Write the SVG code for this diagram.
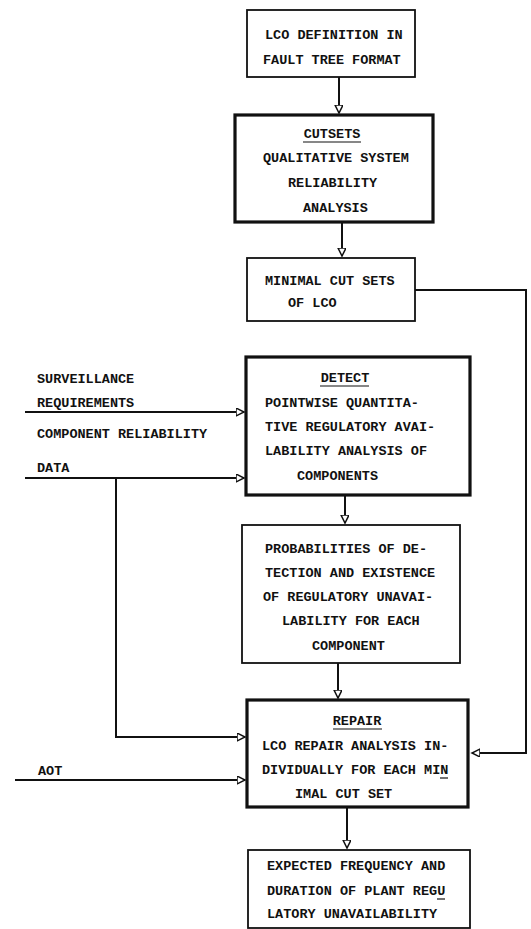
<svg xmlns="http://www.w3.org/2000/svg" width="531" height="929" viewBox="0 0 531 929">
<defs>
<marker id="ah" markerWidth="10" markerHeight="10" refX="8" refY="4" orient="auto" markerUnits="userSpaceOnUse">
<path d="M0,0 L8,4 L0,8 Z" fill="#fff" stroke="#111" stroke-width="1.5"/>
</marker>
</defs>
<style>
.box{fill:#fff;stroke:#111;stroke-width:1.8}
.thick{fill:#fff;stroke:#111;stroke-width:3.2}
.t{font-family:"Liberation Mono","Courier New",monospace;font-size:13.5px;font-weight:bold;fill:#111}
.c{text-anchor:middle}
.ln{fill:none;stroke:#111;stroke-width:2}
.ul{stroke:#111;stroke-width:1.2}
</style>
<rect width="531" height="929" fill="#fff"/>
<g id="connectors">
<line class="ln" x1="339" y1="77" x2="339" y2="113" marker-end="url(#ah)"/>
<line class="ln" x1="342" y1="222" x2="342" y2="256" marker-end="url(#ah)"/>
<polyline class="ln" points="415,290 526,290 526,753 472,753" marker-end="url(#ah)"/>
<line class="ln" x1="25" y1="412" x2="244" y2="412" marker-end="url(#ah)"/>
<line class="ln" x1="25" y1="478" x2="244" y2="478" marker-end="url(#ah)"/>
<polyline class="ln" points="116,478 116,737 245,737" marker-end="url(#ah)"/>
<line class="ln" x1="15" y1="780" x2="245" y2="780" marker-end="url(#ah)"/>
<line class="ln" x1="345" y1="495" x2="345" y2="523" marker-end="url(#ah)"/>
<line class="ln" x1="338" y1="663" x2="338" y2="698" marker-end="url(#ah)"/>
<line class="ln" x1="347" y1="807" x2="347" y2="848" marker-end="url(#ah)"/>
</g>
<g id="lco-definition">
<rect class="box" x="247" y="10" width="168" height="67"/>
<text class="t" x="265" y="39">LCO DEFINITION IN</text>
<text class="t" x="263" y="64">FAULT TREE FORMAT</text>
</g>
<g id="cutsets">
<rect class="thick" x="235" y="115" width="198" height="107"/>
<text class="t c" x="332" y="138">CUTSETS</text>
<line class="ul" x1="303" y1="142" x2="361" y2="142"/>
<text class="t" x="263" y="162">QUALITATIVE SYSTEM</text>
<text class="t" x="288" y="187">RELIABILITY</text>
<text class="t" x="303" y="212">ANALYSIS</text>
</g>
<g id="minimal-cut-sets">
<rect class="box" x="247" y="258" width="168" height="63"/>
<text class="t" x="265" y="285">MINIMAL CUT SETS</text>
<text class="t" x="288" y="307">OF LCO</text>
</g>
<g id="surveillance">
<text class="t" x="37" y="383">SURVEILLANCE</text>
<text class="t" x="37" y="407">REQUIREMENTS</text>
</g>
<g id="component-data">
<text class="t" x="37" y="438">COMPONENT RELIABILITY</text>
<text class="t" x="37" y="472">DATA</text>
</g>
<g id="detect">
<rect class="thick" x="246" y="357" width="224" height="138"/>
<text class="t c" x="345" y="382">DETECT</text>
<line class="ul" x1="320" y1="386" x2="369" y2="386"/>
<text class="t" x="265" y="407">POINTWISE QUANTITA-</text>
<text class="t" x="265" y="431">TIVE REGULATORY AVAI-</text>
<text class="t" x="265" y="455">LABILITY ANALYSIS OF</text>
<text class="t" x="297" y="480">COMPONENTS</text>
</g>
<g id="probabilities">
<rect class="box" x="242" y="525" width="218" height="138"/>
<text class="t" x="265" y="553">PROBABILITIES OF DE-</text>
<text class="t" x="265" y="577">TECTION AND EXISTENCE</text>
<text class="t" x="263" y="601">OF REGULATORY UNAVAI-</text>
<text class="t" x="282" y="625">LABILITY FOR EACH</text>
<text class="t" x="312" y="650">COMPONENT</text>
</g>
<g id="aot">
<text class="t" x="38" y="775">AOT</text>
</g>
<g id="repair">
<rect class="thick" x="247" y="700" width="221" height="107"/>
<text class="t c" x="357" y="725">REPAIR</text>
<line class="ul" x1="333" y1="729" x2="382" y2="729"/>
<text class="t" x="262" y="750">LCO REPAIR ANALYSIS IN-</text>
<text class="t" x="262" y="774">DIVIDUALLY FOR EACH MIN</text>
<line class="ul" x1="440" y1="778" x2="448" y2="778"/>
<text class="t" x="295" y="798">IMAL CUT SET</text>
</g>
<g id="expected-frequency">
<rect class="box" x="248" y="850" width="222" height="78"/>
<text class="t" x="267" y="870">EXPECTED FREQUENCY AND</text>
<text class="t" x="267" y="895">DURATION OF PLANT REGU</text>
<line class="ul" x1="437" y1="899" x2="445" y2="899"/>
<text class="t" x="267" y="918">LATORY UNAVAILABILITY</text>
</g>
</svg>
